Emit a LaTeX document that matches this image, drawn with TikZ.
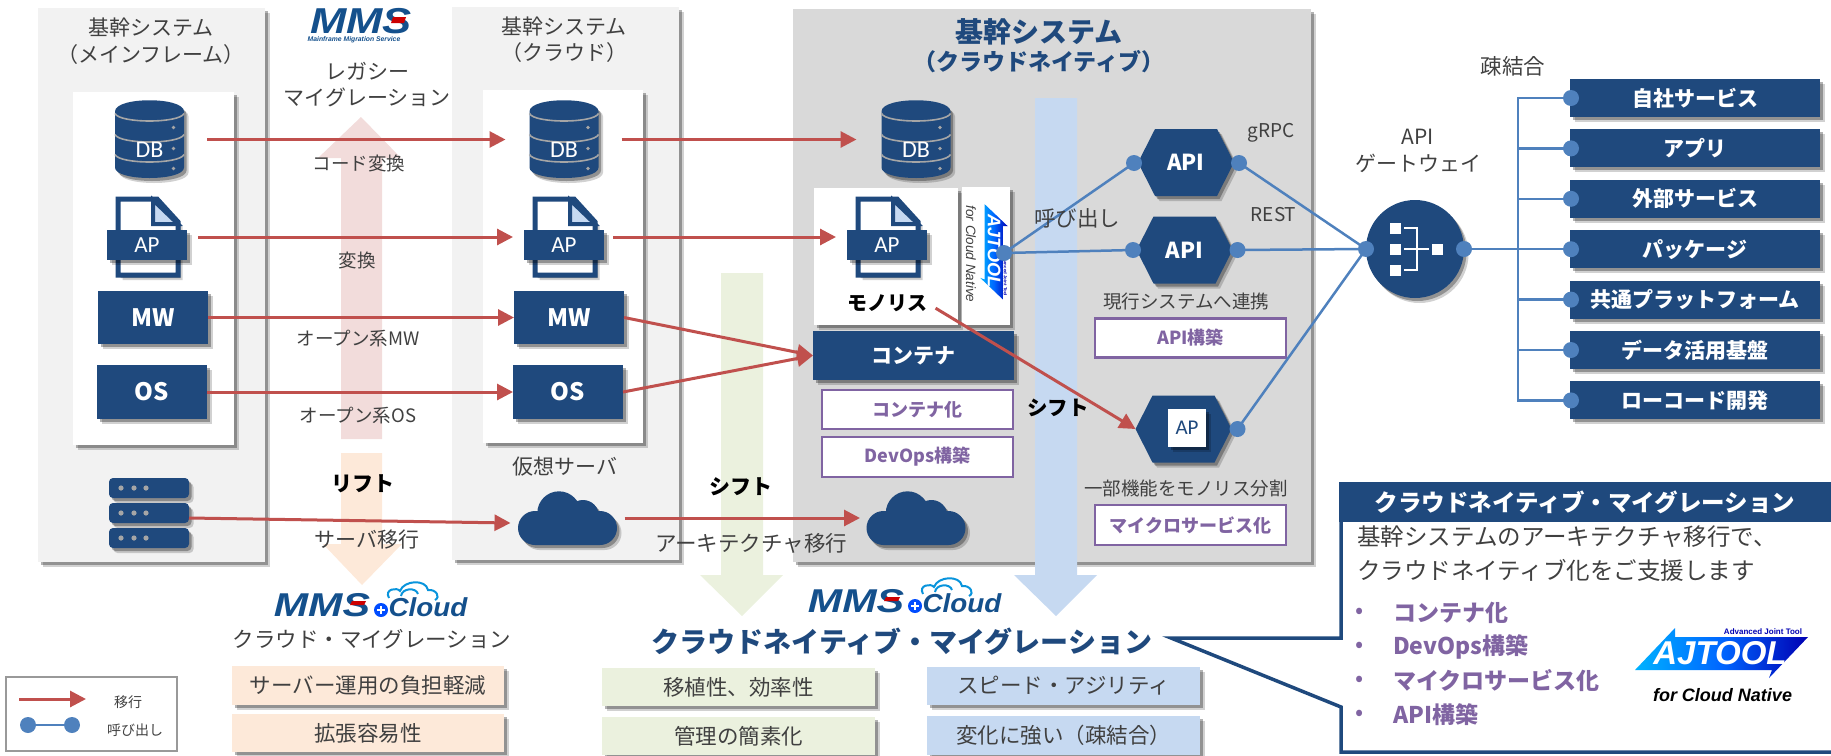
\documentclass[tikz,border=0pt]{standalone}
\usepackage{fontspec}
\setmainfont{Noto Sans CJK JP}
\newfontfamily\iconfont{Carlito}
\newfontfamily\logofont{Liberation Sans}
\usetikzlibrary{arrows.meta,calc,positioning,shadows}
\definecolor{bbnavy}{HTML}{1F497D}
\definecolor{bbred}{HTML}{C0504D}
\definecolor{bbwire}{HTML}{4F81BD}
\definecolor{bbpurple}{HTML}{8064A2}
\definecolor{bbtext}{HTML}{404040}
\definecolor{bbpeach}{HTML}{FDE9D9}
\definecolor{bbgreen}{HTML}{EBF1DE}
\definecolor{bbblue}{HTML}{C6D9F1}
\definecolor{bbpink}{HTML}{F2DCDB}
\definecolor{bblogo}{HTML}{14508C}
\newcommand{\fsz}[2]{\fontsize{#1}{#2}\selectfont}
\pgfdeclarelayer{front}
\pgfsetlayers{main,front}
\tikzset{
	shad/.style={
		general shadow={shadow xshift=4.5pt,shadow yshift=-5pt,opacity=.18,fill=black},
		general shadow={shadow xshift=2.5pt,shadow yshift=-3pt,opacity=.3,fill=black}},
	wh/.style 2 args={minimum width=#1,minimum height=#2,inner sep=0pt,outer sep=0pt},
	lbl/.style={font=\fsz{18.5}{22},text=bbtext,inner sep=0pt,align=center},
	panel/.style={shad,inner sep=0pt,outer sep=0pt},
	sysbox/.style={fill=bbnavy,text=white,font=\fsz{24}{24}\bfseries,shad},
	svc/.style={wh={250}{38},fill=bbnavy,text=white,font=\fsz{21}{24}\bfseries,shad},
	task/.style={wh={191}{39},draw=bbpurple,line width=2.5pt,fill=white,text=bbpurple,font=\fsz{18}{20}\bfseries},
	merit/.style={wh={273}{38},text=bbtext,font=\fsz{21.5}{24},shad},
	port/.style={circle,fill=bbwire,minimum size=16,inner sep=0pt,outer sep=0pt},
	mig/.style={draw=bbred,line width=3pt,-{Triangle[length=16pt,width=16pt]}},
	call/.style={draw=bbwire,line width=2.5pt},
	dbicon/.pic={
		\fill[bbnavy,shad] (-34.5,-28) -- (-34.5,28) .. controls (-34.5,42) and (34.5,42) .. (34.5,28) -- (34.5,-28)
			.. controls (34.5,-43) and (-34.5,-43) .. (-34.5,-28) -- cycle;
		\foreach \y in {-26,-5,15}
			\draw[black!35,line width=1.6pt] (-34.5,\y) .. controls (-30,{\y+10}) and (30,{\y+10}) .. (34.5,\y);
		\foreach \y in {-12,9,29}
			\fill[black!35] (24,\y) circle (1.8);
		\node[font=\iconfont\fsz{24}{24},text=white] (-dbt) at (0,10) {DB};
	},
	docicon/.pic={
		\draw[bbnavy,line width=5pt,fill=white,shad] (-29,-38) -- (10,-38) -- (31,-15) -- (31,38) -- (-29,38) -- cycle;
		\draw[bbnavy,line width=4pt,fill=bbblue] (6,-37) -- (6,-13) -- (31,-13) -- cycle;
		\fill[bbnavy,shad] (-40,-7) rectangle (40,23);
		\node[font=\iconfont\fsz{23}{23},text=white] (-apt) at (0,8) {AP};
	},
	cloudicon/.pic={
		\fill[bbnavy,shad] (-33,10) circle (17) (-9,-5) circle (21.7) (15,-2) circle (16) (32,10) circle (17)
			(32,-3) rectangle (-33,27);
	},
	ajlogo/.pic={
		\shade[left color=cyan!70!blue,right color=blue!70!black,middle color=blue!60!cyan]
			(-86,17) -- (-46,-25) -- (-46,-16) -- (87,-16) -- (48,25) -- (51,17) -- cycle;
		\node[transform shape,font=\logofont\bfseries\itshape\fsz{33}{36},text=white] (-nm) at (-1,0) {AJTOOL};
		\node[transform shape,font=\logofont\bfseries\fsz{8}{8},text=blue!70!black] (-sb) at (42,-21) {Advanced Joint Tool};
	},
	mmscloud/.pic={
		\node[transform shape,xscale=1.25,anchor=base,font=\logofont\bfseries\itshape\fsz{33}{33},text=bblogo,inner sep=0pt] (-a) at (-49,17) {MMS};
		\fill[red!80!black] (-19,2) -- (-5,2) -- (-7,6) -- (-21,6) -- cycle;
		\fill[blue!70!cyan] (10,11) circle (7);
		\draw[white,line width=2pt] (6,11) -- (14,11) (10,7) -- (10,15);
		\node[transform shape,xscale=1.07,anchor=base,font=\logofont\bfseries\itshape\fsz{26}{26},text=bblogo,inner sep=0pt] (-b) at (57,17) {Cloud};
		\draw[cyan!80!blue,line width=2pt] (18,-1) .. controls (13,-10) and (26,-12) .. (29,-8)
			.. controls (33,-19) and (55,-20) .. (57,-9) .. controls (65,-10) and (70,-2) .. (64,1);
		\draw[cyan!80!blue,line width=2pt] (30,-3) .. controls (31,-11) and (45,-12) .. (47,-5);
	}
}

\begin{document}
\begin{tikzpicture}[x=1pt,y=-1pt]
	\useasboundingbox (0,0) rectangle (1831,755);
	% panels
	\node[panel,fill=black!5,wh={227}{554}] (p1) at (151.5,285) {};
	\node[panel,fill=white,wh={161}{353}] (w1) at (153.5,268.5) {};
	\node[panel,fill=black!5,wh={227}{553}] (p2) at (565.5,283.5) {};
	\node[panel,fill=white,wh={160}{353}] (w2) at (563,266.5) {};
	\node[panel,fill=black!15,wh={518}{553}] (p3) at (1052,285.5) {};
	% block arrows
	\fill[bbpink] (341,439) -- (341,158) -- (318,158) -- (361,117) -- (401,158) -- (382,158) -- (382,439) -- cycle;
	\fill[bbpeach] (341,453) -- (341,544) -- (323,544) -- (362,585) -- (402,544) -- (382,544) -- (382,453) -- cycle;
	\fill[bbgreen] (721,273) -- (721,575) -- (700,575) -- (742,616) -- (783,575) -- (763,575) -- (763,273) -- cycle;
	\fill[bbblue] (1035,98) -- (1035,575) -- (1014,575) -- (1056,616) -- (1097,575) -- (1077,575) -- (1077,98) -- cycle;
	% titles
	\node[lbl,font=\fsz{21}{27}] (t1) at (151,41) {基幹システム\\（メインフレーム）};
	\node[lbl,font=\fsz{21}{26}] (t2) at (564,39.5) {基幹システム\\（クラウド）};
	\node[lbl,font=\fsz{28}{30}\bfseries,text=bbnavy] (t3) at (1039,32) {基幹システム};
	\node[lbl,font=\fsz{23}{26}\bfseries,text=bbnavy] (t4) at (1039,62) {（クラウドネイティブ）};
	\node[lbl,font=\fsz{21}{26}] (t5) at (367,85) {レガシー\\マイグレーション};
	% mms logo
	\node[xscale=1.21,transform shape,font=\logofont\bfseries\itshape\fsz{36}{36},text=bblogo,inner sep=0pt,text height=25pt,text depth=0pt] (mms) at (361,21) {MMS};
	\fill[red!80!black] (393,17) -- (406,17) -- (404,23) -- (391,23) -- cycle;
	\node[font=\logofont\bfseries\itshape\fsz{6.8}{8},text=bblogo,inner sep=0pt] (mmss) at (354,40) {Mainframe Migration Service};
	% icons
	\foreach \n/\x in {db1/149.5,db2/564,db3/916} {
		\node[wh={69}{77}] (\n) at (\x,139.5) {};
		\pic (\n i) at (\n) {dbicon};
	}
	\node[panel,fill=white,wh={144}{137}] (mono) at (886,256.5) {};
	\node[panel,fill=white,wh={48}{138}] (aj) at (986,256) {};
	\foreach \n/\x in {ap1/147,ap2/564,ap3/887} {
		\node[wh={80}{80}] (\n) at (\x,237) {};
		\pic (\n i) at (\n) {docicon};
	}
	\node[font=\fsz{20}{24}\bfseries,text=black,inner sep=0pt,outer sep=0pt] (monot) at (887,303) {モノリス};
	\pic[rotate=-90,scale=.55,transform shape] (aja) at (994,251.5) {ajlogo};
	\node[rotate=-90,font=\logofont\itshape\fsz{13.5}{16},text=bbtext,inner sep=0pt] (ajb) at (971,254) {for Cloud Native};
	\node[sysbox,wh={110}{53}] (mw1) at (153,317.5) {MW};
	\node[sysbox,wh={110}{54}] (os1) at (152,392) {OS};
	\node[sysbox,wh={110}{53}] (mw2) at (569,317.5) {MW};
	\node[sysbox,wh={110}{54}] (os2) at (568,392) {OS};
	\node[wh={80}{70}] (srv) at (149,513) {};
	\foreach \y in {488,513,538} {
		\fill[bbnavy,rounded corners=4pt,shad] (109,{\y-10}) rectangle (189,{\y+10});
		\foreach \x in {121,134,146}
			\fill[black!35] (\x,\y) circle (2.6);
	}
	\foreach \n/\x in {cl2/568,cl3/916.5} {
		\node[wh={99}{53}] (\n) at (\x,518) {};
		\pic (\n i) at (\n) {cloudicon};
	}
	\node[sysbox,wh={201}{49},font=\fsz{21}{24}\bfseries] (ctr) at (913.5,355.5) {コンテナ};
	\node[task] (ta) at (917.5,409.5) {コンテナ化};
	\node[task,minimum height=40] (tb) at (917.5,457) {DevOps構築};
	\node[task] (tc) at (1190.5,338) {API構築};
	\node[task,minimum height=40] (td) at (1190.5,525) {マイクロサービス化};
	% hexagons
	\foreach \n/\x/\y/\t in {h1/1186/162.5/API,h2/1184.5/250/API,h3/1183.5/429/} {
		\fill[bbnavy,shad] ({\x-48},\y) -- ({\x-31},{\y-33.5}) -- ({\x+31},{\y-33.5}) -- ({\x+48},\y) -- ({\x+31},{\y+33.5}) -- ({\x-31},{\y+33.5}) -- cycle;
		\node[wh={96}{67},font=\fsz{22}{24}\bfseries,text=white] (\n) at (\x,\y) {\t};
	}
	\node[wh={38}{38},fill=white,shad,font=\iconfont\fsz{21}{24},text=bbnavy] (h3b) at (1187,428) {AP};
	% gateway
	\node[circle,fill=bbnavy,minimum size=98,inner sep=0pt,shad] (gw) at (1415,249) {};
	\foreach \y in {-21,0,21}
		\fill[white] ($(gw)+(-25,\y)+(0,-5)$) rectangle +(10.5,10.5);
	\fill[white] ($(gw)+(17,-5)$) rectangle +(10.5,10.5);
	\draw[white,line width=2pt] ($(gw)+(-11,-21)$) -- ($(gw)+(2,-21)$) -- ($(gw)+(2,21)$) -- ($(gw)+(-11,21)$)
		($(gw)+(-11,0)$) -- ($(gw)+(14,0)$);
	% ports
	\begin{pgfonlayer}{front}
		\foreach \n/\x/\y in {m0/1004/253,a1/1134/163,b1/1239/163,a2/1133/250,b2/1237.5/250,b3/1237.5/429,g1/1366/249,g2/1464/249,l1/28/725,l2/72/725}
			\node[port] (\n) at (\x,\y) {};
	\end{pgfonlayer}
	% migration arrows
	\draw[mig] ([xshift=23]db1.east) -- ([xshift=-24]db2.west);
	\draw[mig] ([xshift=23]db2.east) -- ([xshift=-25]db3.west);
	\draw[mig] ([xshift=11]ap1.east) -- ([xshift=-11]ap2.west);
	\draw[mig] ([xshift=9]ap2.east) -- ([xshift=-11]ap3.west);
	\draw[mig] (mw1.east) -- (mw2.west);
	\draw[mig] (os1.east) -- (os2.west);
	\draw[mig] (mw2.east) -- (ctr.west);
	\draw[mig] (os2.east) -- (ctr.west);
	\draw[mig] ([yshift=-5]srv.east) -- ([yshift=-5,xshift=-8]cl2.west);
	\draw[mig] ([xshift=7]cl2.east) -- ([xshift=-7]cl3.west);
	\draw[mig,shorten <=10] (monot.east) -- (h3.west);
	% calls
	\draw[call] (m0.center) -- (a1.center);
	\draw[call] (m0.center) -- (a2.center);
	\foreach \n in {b1,b2,b3}
		\draw[call] (\n.center) -- (g1.center);
	\coordinate (bus) at (1518,249);
	\draw[call] (g2.center) -- (bus);
	\foreach \t [count=\i] in {自社サービス,アプリ,外部サービス,パッケージ,共通プラットフォーム,データ活用基盤,ローコード開発} {
		\pgfmathsetmacro\y{98+50.4*(\i-1)}
		\node[svc] (s\i) at (1695,\y) {\t};
		\begin{pgfonlayer}{front}
			\node[port] (d\i) at (1571,\y) {};
		\end{pgfonlayer}
		\draw[call] (d\i.center) -| (bus);
	}
	% labels
	\node[lbl] (k1) at (359,163) {コード変換};
	\node[lbl] (k2) at (357,260) {変換};
	\node[lbl] (k3) at (358,339) {オープン系MW};
	\node[lbl] (k4) at (358,416) {オープン系OS};
	\node[lbl,font=\fsz{21}{24}] (k5) at (367,540) {サーバ移行};
	\node[lbl,font=\fsz{21}{24}] (k6) at (565,467) {仮想サーバ};
	\node[lbl,font=\fsz{21.5}{24}] (k7) at (751,543) {アーキテクチャ移行};
	\node[lbl,font=\fsz{21}{24}\bfseries,text=black] (k8) at (363,484) {リフト};
	\node[lbl,font=\fsz{21}{24}\bfseries,text=black] (k9) at (741,487) {シフト};
	\node[lbl,font=\fsz{20.5}{24}\bfseries,text=black] (k10) at (1058,408) {シフト};
	\node[lbl,font=\fsz{21.5}{24}] (k11) at (1077,218) {呼び出し};
	\node[lbl,font=\fsz{19}{22}] (k12) at (1271,133) {gRPC};
	\node[lbl,font=\fsz{19}{22}] (k13) at (1273.5,215) {REST};
	\node[lbl] (k14) at (1186,302) {現行システムへ連携};
	\node[lbl] (k15) at (1186,489) {一部機能をモノリス分割};
	\node[lbl,font=\fsz{21}{27}] (k16) at (1418,151) {API\\ゲートウェイ};
	\node[lbl,font=\fsz{21.5}{24}] (k17) at (1513,66) {疎結合};
	% lower left
	\pic (mc1) at (371,599) {mmscloud};
	\node[lbl,font=\fsz{21.5}{24}] (q1) at (372,639) {クラウド・マイグレーション};
	\node[merit,fill=bbpeach,minimum width=272,minimum height=39] (q2) at (368,685.5) {サーバー運用の負担軽減};
	\node[merit,fill=bbpeach,minimum width=272] (q3) at (368,733) {拡張容易性};
	% lower middle
	\pic (mc2) at (905,595) {mmscloud};
	\node[lbl,font=\fsz{28}{30}\bfseries,text=bbnavy] (q4) at (902,642) {クラウドネイティブ・マイグレーション};
	\node[merit,fill=bbgreen] (q5) at (738.5,687) {移植性、効率性};
	\node[merit,fill=bbgreen] (q6) at (738.5,736) {管理の簡素化};
	\node[merit,fill=bbblue] (q7) at (1063.5,686) {スピード・アジリティ};
	\node[merit,fill=bbblue,minimum height=39] (q8) at (1063.5,735.5) {変化に強い（疎結合）};
	% legend
	\node[wh={171}{74},draw=black!40,line width=1.5pt] (lg) at (91.5,714) {};
	\coordinate (la) at (19,699);
	\coordinate (lb) at (86,699);
	\draw[mig] (la) -- (lb);
	\draw[call] (l1.center) -- (l2.center);
	\node[lbl,font=\fsz{14}{18}] (lg1) at (128,702) {移行};
	\node[lbl,font=\fsz{14}{18}] (lg2) at (135,730) {呼び出し};
	% callout
	\draw[bbnavy,line width=3.5pt,fill=white] (1341,484) -- (1840,484) -- (1840,752) -- (1341,752) -- (1341,707) -- (1171,638) -- (1341,638) -- cycle;
	\node[wh={492}{40},fill=bbnavy,text=white,font=\fsz{23.5}{26}\bfseries,text width=492,align=center] (cb) at (1585,502) {クラウドネイティブ・マイグレーション};
	\node[lbl,font=\fsz{23.5}{34},align=left,anchor=north west] (cc) at (1357,526) {基幹システムのアーキテクチャ移行で、\\クラウドネイティブ化をご支援します};
	\foreach \t/\y [count=\i] in {コンテナ化/613,DevOps構築/647,マイクロサービス化/681,API構築/715} {
		\node[font=\fsz{24}{24},text=bbpurple,inner sep=0pt] (e\i) at (1360,\y) {•};
		\node[font=\fsz{23}{26}\bfseries,text=bbpurple,inner sep=0pt,anchor=west] (f\i) at (1393,\y) {\t};
	}
	\pic (ajc) at (1721,653) {ajlogo};
	\node[font=\logofont\bfseries\itshape\fsz{18}{22},text=black,inner sep=0pt] (ajd) at (1722.5,695) {for Cloud Native};
\end{tikzpicture}
\end{document}
